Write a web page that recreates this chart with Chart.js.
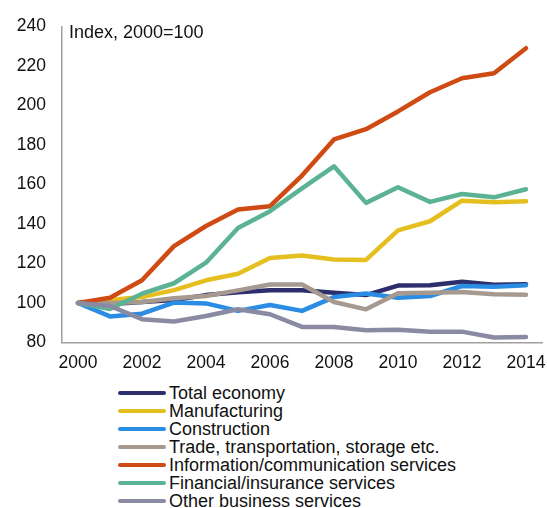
<!DOCTYPE html>
<html>
<head>
<meta charset="utf-8">
<script src="https://cdn.jsdelivr.net/npm/chart.js@4"></script>
<style>
  html, body { margin: 0; padding: 0; background: #fff; }
  #wrap { position: relative; width: 547px; height: 508px; }
  #chart { position: absolute; left: 0; top: 0; }
  #legend {
    position: absolute; left: 118px; top: 384px;
    font-family: 'Liberation Sans', Arial, sans-serif; font-size: 18px; color: #111;
  }
  .item { display: flex; align-items: center; height: 18px; line-height: 18px; white-space: nowrap; }
  .swatch { width: 48px; height: 4px; border-radius: 2px; margin-right: 3px; }
</style>
</head>
<body>
<div id="wrap">
  <canvas id="chart" width="547" height="380"></canvas>
  <div id="legend"></div>
</div>
<script>
const years = ['2000', '2001', '2002', '2003', '2004', '2005', '2006', '2007',
               '2008', '2009', '2010', '2011', '2012', '2013', '2014'];

const totalEconomy  = [100, 99.5, 100.5, 101.5, 104, 105.5, 106.5, 106.5, 105.2, 104, 108.8, 109, 110.8, 109.2, 109.5];
const manufacturing = [100, 101.5, 103, 106.5, 111.5, 114.8, 122.8, 124, 122, 121.8, 136.8, 141.4, 151.8, 151, 151.5];
const construction  = [100, 93.2, 94.6, 100.2, 99.8, 96, 99, 96, 103, 104.8, 102.7, 103.5, 108.6, 108.2, 109];
const trade         = [100, 100, 100.5, 102.4, 103.5, 106.4, 109.4, 109.4, 100.5, 96.8, 104.9, 105.2, 105.6, 104.4, 104.2];
const infoComm      = [100, 102.7, 111.5, 128.8, 139, 147.3, 149, 164.5, 182.8, 188, 197, 206.7, 213.8, 216.3, 229];
const financial     = [100, 97, 104.7, 110, 120.4, 138, 146.5, 158, 169.2, 150.7, 158.6, 151.2, 155.2, 153.5, 157.6];
const otherBusiness = [100, 98.5, 91.8, 90.6, 93.4, 96.8, 94.3, 87.9, 87.9, 86.2, 86.5, 85.5, 85.5, 82.5, 82.8];

const seriesNames = ['Total economy', 'Manufacturing', 'Construction', 'Trade, transportation, storage etc.',
                     'Information/communication services', 'Financial/insurance services', 'Other business services'];
const seriesData = [totalEconomy, manufacturing, construction, trade, infoComm, financial, otherBusiness];
const seriesColors = ['#2c2f6c', '#e5bf1f', '#2a8ce2', '#a69a90', '#d04a14', '#5cb394', '#8a8ba3'];

const yTicks = { min: 80, max: 240, step: 20 };
const unitNote = 'Index, 2000=100';

const FONT = "'Liberation Sans', Arial, sans-serif";

// small note in the top-left corner of the plot area
const notePlugin = {
  id: 'note',
  afterDraw(chart) {
    const { ctx, chartArea } = chart;
    ctx.save();
    ctx.font = '18px ' + FONT;
    ctx.fillStyle = '#111';
    ctx.textAlign = 'left';
    ctx.textBaseline = 'alphabetic';
    ctx.fillText(unitNote, chartArea.left + 7, 38);
    ctx.restore();
  }
};

const n = seriesNames.length;
const datasets = seriesNames.map((name, i) => ({
  label: name,
  data: seriesData[i],
  borderColor: seriesColors[i],
  backgroundColor: seriesColors[i],
  borderWidth: 4.5,
  borderJoinStyle: 'round',
  borderCapStyle: 'round',
  pointRadius: 0,
  tension: 0,
  order: n - i   // later series drawn on top
}));

Chart.defaults.font.family = FONT;
Chart.defaults.color = '#111';

const chart = new Chart(document.getElementById('chart'), {
  type: 'line',
  data: { labels: years, datasets: datasets },
  options: {
    responsive: false,
    devicePixelRatio: 1,
    animation: false,
    layout: { padding: { left: 16, right: 5, top: 24, bottom: 0 } },
    plugins: {
      legend: { display: false },
      tooltip: { enabled: false }
    },
    scales: {
      x: {
        offset: true,
        grid: { display: false, drawTicks: false },
        border: { display: true, color: '#a0a0a0', width: 1.5 },
        afterFit(scale) {
          scale.height = 37.5;
          scale.paddingLeft = 0;
          scale.paddingRight = 0;
        },
        ticks: {
          font: { size: 17.5 },
          padding: 10,
          maxRotation: 0,
          autoSkip: false,
          callback: function(value, index) {
            return index % 2 === 0 ? this.getLabelForValue(value) : '';
          }
        }
      },
      y: {
        min: yTicks.min,
        max: yTicks.max,
        grid: { display: false, drawTicks: false },
        border: { display: true, color: '#a0a0a0', width: 1.5 },
        afterFit(scale) { scale.width = 46; },
        ticks: { stepSize: yTicks.step, font: { size: 17.5 }, padding: 16 }
      }
    }
  },
  plugins: [notePlugin]
});

// legend as a single column under the chart
const legend = document.getElementById('legend');
seriesNames.forEach((name, i) => {
  const row = document.createElement('div');
  row.className = 'item';
  const sw = document.createElement('span');
  sw.className = 'swatch';
  sw.style.background = seriesColors[i];
  const txt = document.createElement('span');
  txt.textContent = name;
  row.appendChild(sw);
  row.appendChild(txt);
  legend.appendChild(row);
});
</script>
</body>
</html>
